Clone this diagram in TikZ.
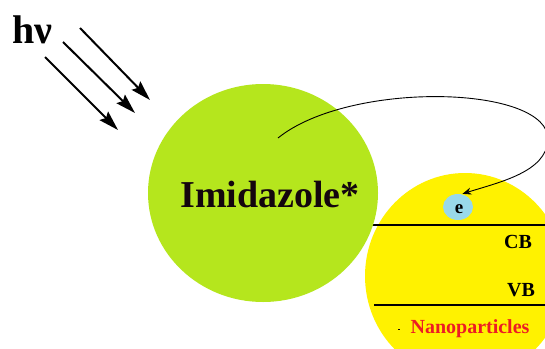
\documentclass[tikz,border=0pt]{standalone}
\usepackage{fontspec}
\setmainfont{Liberation Serif}
\usetikzlibrary{shapes.geometric,arrows.meta}
\definecolor{dyegreen}{HTML}{B5E61D}
\definecolor{npyellow}{HTML}{FFF200}
\definecolor{eblue}{HTML}{99D9EA}
\definecolor{npred}{HTML}{ED1C24}
\definecolor{inkdark}{HTML}{14060E}
\tikzset{
  blob/.style={ellipse, inner sep=0pt, draw=none},
  photon/.style={line width=2pt, -{Stealth[length=20pt,width=12pt,inset=3pt]}},
  band/.style={line width=1.7pt},
  transfer/.style={line width=0.9pt, -{Stealth[length=9pt,width=7pt]}, shorten >=1pt},
  lbl/.style={anchor=base, inner sep=0pt, font=\bfseries\fontsize{20}{22}\selectfont},
}
\begin{document}
\begin{tikzpicture}[x=1pt,y=-1pt]
\clip (0,0) rectangle (545,348);
\fill[white] (0,0) rectangle (545,348);

% nanoparticle with its conduction and valence band edges
\node[blob, fill=npyellow, minimum width=200pt, minimum height=206pt] (np) at (465,276) {};
\draw[band] (372,225) -- (560,225);
\draw[band] (374,305) -- (560,305);
\node[lbl] (cb) at (518,248) {CB};
\node[lbl] (vb) at (521,296) {VB};
\node[lbl, text=npred] (nptxt) at (470,333) {Nanoparticles};
\fill[inkdark] (397.5,328.5) rectangle (399.5,330);

% excited dye
\node[blob, fill=dyegreen, minimum width=230pt, minimum height=218pt] (dye) at (263,193) {};
\node[lbl, text=inkdark, font=\bfseries\fontsize{38}{40}\selectfont] (dyetxt) at (270,207) {Imidazole*};

% injected electron
\node[blob, fill=eblue, minimum width=30pt, minimum height=26pt] (elec) at (458,207) {};
\node[lbl, font=\bfseries\fontsize{19}{21}\selectfont] (etxt) at (459,213) {e};

% incident light
\node[anchor=base west, inner sep=0pt, font=\bfseries\fontsize{40}{42}\selectfont] (hv) at (12,43) {hν};
\coordinate (p1s) at (80,28);  \coordinate (p1e) at (150,100);
\coordinate (p2s) at (63,42);  \coordinate (p2e) at (135,113);
\coordinate (p3s) at (45,57);  \coordinate (p3e) at (118,130);
\draw[photon] (p1s) -- (p1e);
\draw[photon] (p2s) -- (p2e);
\draw[photon] (p3s) -- (p3e);

% electron transfer from the dye to the conduction band
\coordinate (inj) at (278,138);
\coordinate (loop) at (548,140);
\draw[transfer] (inj) .. controls (350,80) and (550,85) .. (loop)
  .. controls (546,172) and (500,182) .. (elec.75);
\end{tikzpicture}
\end{document}
